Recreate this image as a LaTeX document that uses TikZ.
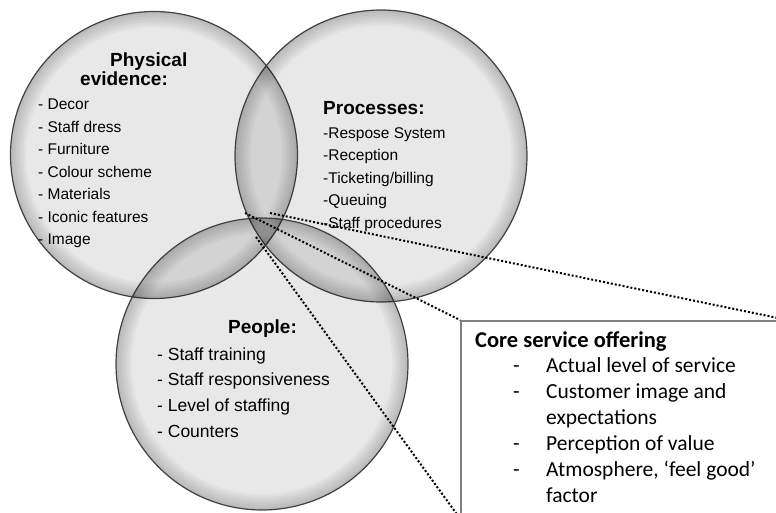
\documentclass[tikz,border=0pt]{standalone}
\usepackage{fontspec}
\setmainfont{Liberation Sans}
\newfontfamily\calibri{Carlito}

\begin{document}
\begin{tikzpicture}[x=1bp, y=-1bp,
    set/.style={circle, draw=black!70, line width=1.2bp, fill=black, fill opacity=0.09, minimum size=#1, inner sep=0pt},
    rim/.style={black, fill opacity=0.035, even odd rule},
    heading/.style={font=\fontsize{19bp}{19bp}\selectfont\bfseries, anchor=base west, inner sep=0pt},
    items/.style={font=\fontsize{15.5bp}{22.5bp}\selectfont, align=left, anchor=north west, inner sep=0pt},
    corebox/.style={draw=black!50, line width=1.5bp, fill=white, anchor=north west},
    boxhead/.style={font=\calibri\fontsize{22.5bp}{22.5bp}\selectfont\bfseries, anchor=base west, inner sep=0pt},
    boxitems/.style={font=\calibri\fontsize{21.5bp}{26bp}\selectfont, align=left, anchor=north west, inner sep=0pt},
    zoomline/.style={line width=2bp, dash pattern=on 2bp off 2bp}]

\useasboundingbox (0,0) rectangle (776,513);

% the three overlapping sets
\node[set=287bp] (physical) at (154,155) {};
\node[set=292bp] (processes) at (381,156) {};
\node[set=292bp] (people) at (262,364) {};

% darker band along the inside of each rim
\foreach \s/\r in {physical/143.5, processes/146, people/146}
  \foreach \k in {1,...,6}
    \fill[rim] (\s.center) circle[radius=\r bp] circle[radius=\r bp-2.6bp*\k];

% Physical evidence
\node[heading] (physhead) at (110,67) {Physical};
\node[heading] (physhead2) at (80,86) {evidence:};
\node[items] (physlist) at (38,99) {- Decor\\- Staff dress\\- Furniture\\- Colour scheme\\- Materials\\- Iconic features\\- Image};

% Processes
\node[heading] (prochead) at (323,115) {Processes:};
\node[items] (proclist) at (323,127) {-Respose System\\-Reception\\-Ticketing/billing\\-Queuing\\-Staff procedures};

% People
\node[heading] (peoplehead) at (228,333) {People:};
\node[items, font=\fontsize{17.5bp}{25.7bp}\selectfont] (peoplelist) at (157,347.2) {- Staff training\\- Staff responsiveness\\- Level of staffing\\- Counters};

% zoomed-out box for the core offering
\node[corebox, minimum width=326bp, minimum height=197bp] (core) at (460,320) {};
\node[boxhead] (corehead) at (475,347) {Core service offering};
\node[boxitems] (corelist) at (513,357) {\makebox[33bp][l]{-}Actual level of service\\
    \makebox[33bp][l]{-}Customer image and\\
    \hspace*{33bp}expectations\\
    \makebox[33bp][l]{-}Perception of value\\
    \makebox[33bp][l]{-}Atmosphere, ‘feel good’\\
    \hspace*{33bp}factor};

% dotted lines from the centre of the sets to the box
\coordinate (lensA) at (245,213);
\coordinate (lensB) at (270,213);
\coordinate (lensC) at (256,237);
\draw[zoomline] (lensA) -- (core.north west);
\draw[zoomline] (lensB) -- (core.north east);
\draw[zoomline] (lensC) -- (core.south west);

\end{tikzpicture}
\end{document}
